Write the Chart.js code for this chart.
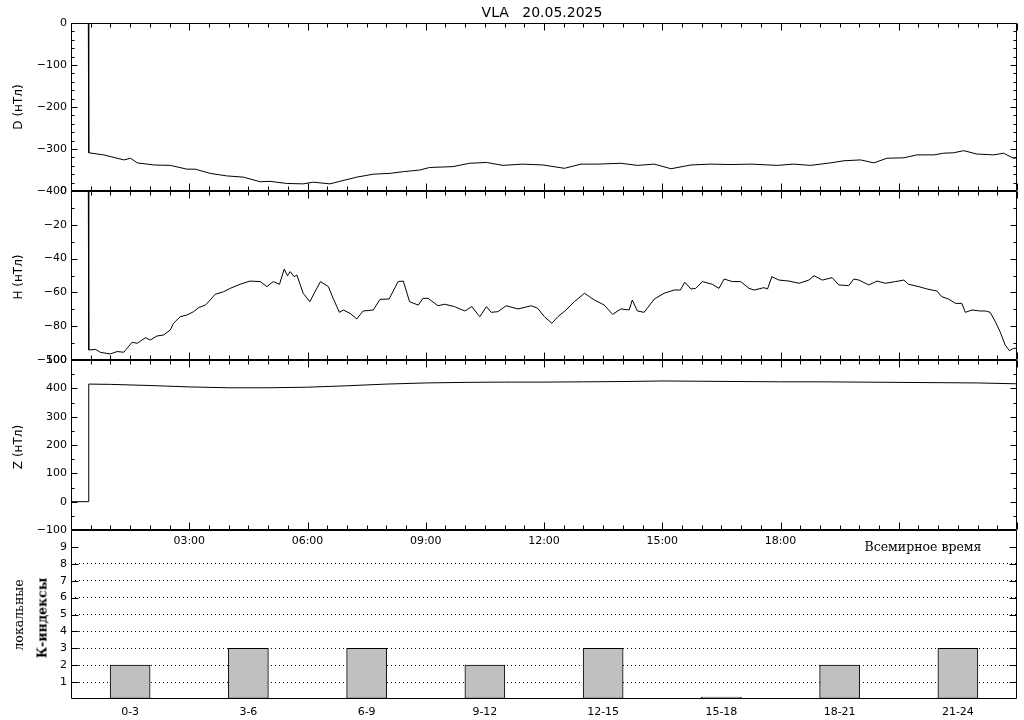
<!DOCTYPE html>
<html><head><meta charset="utf-8">
<script src="https://cdn.jsdelivr.net/npm/chart.js@4/dist/chart.umd.min.js"></script>
<style>
html,body{margin:0;padding:0;background:#fff;}
#wrap{position:relative;width:1024px;height:720px;overflow:hidden;background:#fff;}
canvas{position:absolute;left:0;top:0;}
.t{position:absolute;white-space:nowrap;color:#000;line-height:1;transform:translate(-50%,-50%);}
.r{transform:translate(-50%,-50%) rotate(-90deg);}
</style></head>
<body><div id="wrap">
<canvas id="cK" width="1024" height="720"></canvas>
<canvas id="cZ" width="1024" height="720"></canvas>
<canvas id="cH" width="1024" height="720"></canvas>
<canvas id="cD" width="1024" height="720"></canvas>
<div class="t" style="left:542px;top:12px;font:14px 'DejaVu Sans';">VLA&nbsp;&nbsp;&nbsp;20.05.2025</div>
<div class="t r" style="left:18px;top:107px;font:12px 'DejaVu Sans';">D (нТл)</div>
<div class="t r" style="left:18px;top:277px;font:12px 'DejaVu Sans';">H (нТл)</div>
<div class="t r" style="left:18px;top:447px;font:12px 'DejaVu Sans';">Z (нТл)</div>
<div class="t" style="left:923px;top:546px;font:12.5px 'DejaVu Serif';">Всемирное время</div>
<div class="t r" style="left:18px;top:615px;font:12.5px 'DejaVu Serif';">локальные</div>
<div class="t r" style="left:42px;top:618px;font:bold 12.5px 'DejaVu Serif';">К-индексы</div>
</div>
<script>
// ---- data (hours UT, nT) ----
const dTimes = [0,0.44,0.45,0.83,1.34,1.51,1.68,2.10,2.52,2.94,3.15,3.53,3.95,4.37,4.80,5.05,5.47,5.89,6.15,6.57,6.82,7.25,7.67,8.09,8.43,8.85,9.10,9.69,10.11,10.54,10.96,11.46,11.97,12.52,12.94,13.36,13.95,14.37,14.80,15.22,15.73,16.23,16.74,17.25,17.92,18.34,18.76,19.27,19.61,20.03,20.37,20.70,21.13,21.46,21.89,22.14,22.39,22.65,22.98,23.41,23.66,23.91,24];
const dValues = [0,0,-309,-314,-326,-322,-333,-338,-339,-348,-348,-358,-364,-367,-378,-377,-382,-383,-379,-383,-377,-367,-360,-358,-354,-350,-344,-342,-334,-332,-339,-336,-338,-346,-336,-336,-334,-339,-336,-347,-338,-336,-337,-336,-339,-336,-339,-333,-328,-326,-333,-322,-321,-314,-314,-310,-309,-304,-312,-314,-310,-322,-321];

const hTimes = [0,0.44,0.45,0.62,0.75,1.00,1.17,1.34,1.55,1.68,1.89,2.01,2.18,2.35,2.52,2.60,2.77,2.94,3.11,3.24,3.41,3.53,3.66,3.87,4.04,4.29,4.54,4.80,4.97,5.13,5.29,5.41,5.49,5.56,5.66,5.73,5.89,6.06,6.19,6.33,6.53,6.65,6.81,6.91,7.08,7.25,7.41,7.67,7.84,8.07,8.30,8.43,8.59,8.81,8.93,9.06,9.31,9.48,9.73,9.99,10.17,10.37,10.54,10.66,10.83,11.04,11.34,11.68,11.84,12.01,12.20,12.35,12.56,12.77,13.03,13.15,13.28,13.53,13.74,13.95,14.16,14.24,14.37,14.54,14.80,15.05,15.30,15.46,15.57,15.73,15.85,16.02,16.27,16.44,16.57,16.78,16.99,17.20,17.33,17.58,17.67,17.78,17.96,18.22,18.47,18.72,18.85,19.06,19.31,19.48,19.73,19.86,19.99,20.24,20.45,20.66,20.92,21.13,21.25,21.51,21.72,21.97,22.09,22.26,22.44,22.60,22.69,22.86,23.07,23.20,23.32,23.45,23.57,23.70,23.81,23.91,24];
const hValues = [0,0,-94.1,-93.7,-95.5,-96.4,-95.0,-95.4,-89.5,-90.1,-86.8,-88.2,-85.8,-85.2,-82.2,-78.3,-74.4,-73.4,-71.4,-69.0,-67.5,-64.5,-61.1,-59.6,-57.6,-55.2,-53.3,-53.6,-56.6,-53.6,-55.2,-46.2,-50.1,-47.7,-50.7,-49.7,-60.5,-65.5,-59.6,-53.6,-56.6,-63.5,-71.8,-70.4,-72.4,-75.7,-71.0,-70.4,-64.1,-63.9,-53.6,-53.3,-65.5,-67.5,-63.5,-63.5,-67.9,-67.0,-68.4,-71.0,-68.4,-74.4,-68.4,-71.8,-71.4,-67.9,-69.8,-67.9,-69.4,-74.4,-78.3,-74.4,-70.4,-65.5,-60.5,-62.5,-64.5,-67.5,-73.0,-69.8,-70.4,-64.5,-71.0,-71.8,-63.9,-60.5,-58.6,-58.6,-54.0,-58.0,-57.6,-53.6,-55.2,-57.6,-52.1,-53.6,-53.6,-57.6,-58.6,-57.2,-58.0,-50.7,-52.7,-53.3,-54.6,-52.7,-50.1,-52.7,-51.3,-55.6,-56.0,-52.1,-52.7,-55.6,-53.3,-54.6,-53.6,-52.7,-55.2,-56.6,-58.0,-59.2,-62.5,-63.9,-66.5,-66.5,-71.8,-70.4,-71.0,-71.0,-71.8,-77.3,-83.2,-91.1,-94.5,-93.1,-93.0];

const zTimes = [0,0.44,0.45,1,2,3,4,5,6,7,8,9,10,11,12,13,14,15,16,17,18,19,20,21,22,23,24];
const zValues = [0,0,415,414,410,405,402,402,404,409,415,419,421,422,422,423,424,426,425,424,423,423,422,421,420,419,416];

const hourLabels = {3:'03:00',6:'06:00',9:'09:00',12:'12:00',15:'15:00',18:'18:00'};

const kLabels = ['0-3','3-6','6-9','9-12','12-15','15-18','18-21','21-24'];
const kCenters = [1.5,4.5,7.5,10.5,13.5,16.5,19.5,22.5];
const kValues = [2,3,3,2,3,0,2,3];

// ---- setup ----
Chart.defaults.font.family = "'DejaVu Sans', sans-serif";
Chart.defaults.font.size = 11;
Chart.defaults.color = '#000';
Chart.defaults.animation = false;

const minus = v => String(v).replace('-', '\u2212');

// frame with inward ticks on all four sides (IDL style)
const frame = {
  id: 'frame',
  afterDraw(chart, args, o) {
    const {ctx, chartArea: a, scales} = chart;
    const x = scales.x, y = scales.y;
    const L = Math.round(a.left) + 0.5, R = Math.round(a.right) - 0.5;
    const T = Math.round(a.top) + 0.5, B = Math.round(a.bottom) - 0.5;
    ctx.save();
    ctx.strokeStyle = '#000';
    ctx.lineWidth = 1;
    ctx.beginPath();
    ctx.moveTo(L, T); ctx.lineTo(R, T); ctx.lineTo(R, B); ctx.lineTo(L, B); ctx.closePath();
    const ny = Math.round((y.max - y.min) / o.yMinor);
    for (let i = 0; i <= ny; i++) {
      const v = y.min + i * o.yMinor;
      if (o.yFrom !== undefined && (v < o.yFrom || v > o.yTo)) continue;
      const r = v / o.yMajor;
      const len = Math.abs(r - Math.round(r)) < 1e-6 ? o.yMajLen : o.yMinLen;
      const p = Math.round(y.getPixelForValue(v)) + 0.5;
      ctx.moveTo(L, p); ctx.lineTo(L + len, p);
      ctx.moveTo(R, p); ctx.lineTo(R - len, p);
    }
    if (o.xTicks) {
      const nx = Math.round((x.max - x.min) / 0.5);
      for (let i = 0; i <= nx; i++) {
        const v = x.min + i * 0.5;
        const len = (i % 6 === 0) ? 7 : 4;
        const p = Math.round(x.getPixelForValue(v)) + 0.5;
        ctx.moveTo(p, T); ctx.lineTo(p, T + len);
        ctx.moveTo(p, B); ctx.lineTo(p, B - len);
      }
    }
    ctx.stroke();
    ctx.restore();
  }
};

function yAxis(min, max, step) {
  return {
    type: 'linear', min, max, position: 'left',
    ticks: {stepSize: step, padding: 4, autoSkip: false, callback: v => minus(v)},
    grid: {display: false, drawTicks: false},
    border: {display: false},
    afterFit: s => { s.width = 71; }
  };
}
const hiddenX = {type: 'linear', min: 0, max: 24, display: false};

function lineChart(id, times, values, yScale, pad, xScale, fo) {
  return new Chart(document.getElementById(id), {
    type: 'line',
    data: {datasets: [{
      data: times.map((t, i) => ({x: t, y: values[i]})),
      borderColor: '#000', borderWidth: 1, pointRadius: 0, tension: 0, fill: false
    }]},
    options: {
      responsive: false, animation: false, events: [],
      layout: {padding: pad},
      plugins: {legend: {display: false}, tooltip: {enabled: false}, frame: fo},
      scales: {x: xScale, y: yScale}
    },
    plugins: [frame]
  });
}

lineChart('cD', dTimes, dValues, yAxis(-400, 0, 100),
  {left: 0, right: 7, top: 23, bottom: 720 - 191}, hiddenX,
  {yMinor: 20, yMajor: 100, yMajLen: 6, yMinLen: 3, xTicks: true});

lineChart('cH', hTimes, hValues, yAxis(-100, 0, 20),
  {left: 0, right: 7, top: 191, bottom: 720 - 360}, hiddenX,
  {yMinor: 10, yMajor: 20, yMajLen: 6, yMinLen: 3, xTicks: true});

lineChart('cZ', zTimes, zValues, yAxis(-100, 500, 100),
  {left: 0, right: 7, top: 360, bottom: 720 - 530 - 20},
  {
    type: 'linear', min: 0, max: 24, position: 'bottom',
    ticks: {stepSize: 3, autoSkip: false, maxRotation: 0, minRotation: 0, padding: 5,
      callback: v => hourLabels[v] || ''},
    grid: {display: false, drawTicks: false},
    border: {display: false},
    afterFit: s => { s.height = 20; }
  },
  {yMinor: 50, yMajor: 100, yMajLen: 6, yMinLen: 3, xTicks: true});

new Chart(document.getElementById('cK'), {
  type: 'bar',
  data: {datasets: [{
    data: kCenters.map((c, i) => ({x: c, y: kValues[i]})),
    backgroundColor: '#c0c0c0', borderColor: '#000', borderWidth: 1,
    borderSkipped: false, barThickness: 40, minBarLength: 2
  }]},
  options: {
    responsive: false, animation: false, events: [],
    layout: {padding: {left: 0, right: 7, top: 530, bottom: 0}},
    plugins: {legend: {display: false}, tooltip: {enabled: false},
      frame: {yMinor: 1, yMajor: 1, yMajLen: 7, yMinLen: 7, yFrom: 1, yTo: 9, xTicks: false}},
    scales: {
      x: {
        type: 'linear', min: 0, max: 24, position: 'bottom', offset: false,
        afterBuildTicks: s => { s.ticks = kCenters.map(v => ({value: v})); },
        ticks: {autoSkip: false, maxRotation: 0, minRotation: 0, padding: 7,
          callback: (v, i) => kLabels[i]},
        grid: {display: false, drawTicks: false, offset: false},
        border: {display: false},
        afterFit: s => { s.height = 21; }
      },
      y: {
        type: 'linear', min: 0, max: 10, position: 'left',
        ticks: {stepSize: 1, padding: 4, autoSkip: false,
          callback: v => (v >= 1 && v <= 9) ? String(v) : ''},
        grid: {display: true, drawOnChartArea: true, drawTicks: false, lineWidth: 1,
          color: c => (c.tick && c.tick.value >= 1 && c.tick.value <= 8) ? '#000' : 'rgba(0,0,0,0)',
          borderDash: [1, 3]},
        border: {display: false, dash: [1, 3]},
        afterFit: s => { s.width = 71; }
      }
    }
  },
  plugins: [frame]
});
</script>
</body></html>
